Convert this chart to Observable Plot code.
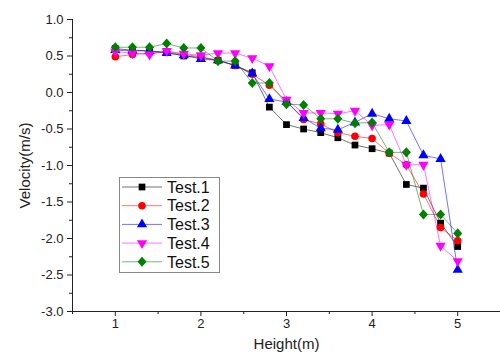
<!DOCTYPE html>
<html><head><meta charset="utf-8">
<script src="https://cdn.jsdelivr.net/npm/d3@7"></script>
<script src="https://cdn.jsdelivr.net/npm/@observablehq/plot@0.6"></script>
<style>
body{margin:0;background:#fff;font-family:"Liberation Sans",Arial,sans-serif}
#c{position:relative;width:500px;height:352px}
[aria-label="y-axis label"] text,[aria-label="x-axis label"] text{font-size:15px}
</style>
</head><body><div id="c"></div>
<script>
const heights = [1.0,1.2,1.4,1.6,1.8,2.0,2.2,2.4,2.6,2.8,3.0,3.2,3.4,3.6,3.8,4.0,4.2,4.4,4.6,4.8,5.0];
const test1 = [0.60,0.58,0.57,0.55,0.50,0.48,0.44,0.37,0.27,-0.20,-0.44,-0.50,-0.55,-0.62,-0.72,-0.77,-0.83,-1.26,-1.31,-1.79,-2.11];
const test2 = [0.49,0.52,0.54,0.56,0.52,0.49,0.44,0.37,0.25,0.10,-0.12,-0.37,-0.43,-0.55,-0.60,-0.63,-0.83,-0.99,-1.39,-1.85,-2.03];
const test3 = [0.58,0.57,0.57,0.54,0.51,0.46,0.44,0.37,0.26,-0.09,-0.13,-0.35,-0.49,-0.51,-0.41,-0.29,-0.36,-0.39,-0.86,-0.91,-2.43];
const test4 = [0.56,0.54,0.52,0.57,0.53,0.51,0.54,0.54,0.47,0.36,-0.10,-0.28,-0.28,-0.29,-0.25,-0.45,-0.44,-0.99,-0.99,-2.10,-2.31];
const test5 = [0.62,0.62,0.62,0.67,0.61,0.61,0.43,0.43,0.13,0.13,-0.16,-0.17,-0.36,-0.36,-0.42,-0.41,-0.82,-0.82,-1.67,-1.67,-1.93];
const seriesNames = ["Test.1","Test.2","Test.3","Test.4","Test.5"];
const seriesValues = [test1,test2,test3,test4,test5];
const seriesColors = ["#000000","#ff0000","#0000ff","#ff00ff","#008000"];
const yTicks = [-3.0,-2.5,-2.0,-1.5,-1.0,-0.5,0.0,0.5,1.0];
const yMinor = [-2.75,-2.25,-1.75,-1.25,-0.75,-0.25,0.25,0.75];
const xTicks = [1,2,3,4,5];
const xMinor = [0.5,1.5,2.5,3.5,4.5,5.5];

const triangleDown = {
  draw(context, size) {
    const s3 = Math.sqrt(3);
    const y = -Math.sqrt(size / (s3 * 3));
    context.moveTo(0, -y * 2);
    context.lineTo(-s3 * y, y);
    context.lineTo(s3 * y, y);
    context.closePath();
  }
};
const rhombus = {
  draw(context, size) {
    const h = Math.sqrt(size / 1.8);
    const w = h * 0.9;
    context.moveTo(0, -h);
    context.lineTo(w, 0);
    context.lineTo(0, h);
    context.lineTo(-w, 0);
    context.closePath();
  }
};
const symbols = ["square","circle","triangle",triangleDown,rhombus];

const rows = [];
seriesNames.forEach((name, i) => heights.forEach((h, j) => rows.push({series: name, h, v: seriesValues[i][j]})));

const marks = [
  Plot.ruleX([0.5], {stroke: "#222"}),
  Plot.ruleY([-3], {stroke: "#222"}),
  Plot.axisY({ticks: yTicks, tickSize: 5, tickPadding: 4, tickFormat: d => d.toFixed(1), fontSize: 13, label: "Velocity(m/s)", labelAnchor: "center", labelArrow: "none", labelOffset: 53, stroke: "#222", color: "#222"}),
  Plot.axisY({ticks: yMinor, tickSize: 3, tickFormat: () => "", label: null, stroke: "#222"}),
  Plot.axisX({ticks: xTicks, tickSize: 5, tickPadding: 2, tickFormat: d => String(d), fontSize: 13, label: "Height(m)", labelAnchor: "center", labelArrow: "none", labelOffset: 37, stroke: "#222", color: "#222"}),
  Plot.axisX({ticks: xMinor, tickSize: 3, tickFormat: () => "", label: null, stroke: "#222"})
];
seriesNames.forEach((name, i) => {
  const data = rows.filter(r => r.series === name);
  marks.push(Plot.line(data, {x: "h", y: "v", stroke: seriesColors[i], strokeWidth: 1, strokeOpacity: 0.55}));
});
seriesNames.forEach((name, i) => {
  const data = rows.filter(r => r.series === name);
  marks.push(Plot.dot(data, {x: "h", y: "v", fill: seriesColors[i], symbol: symbols[i], r: 3.8, stroke: "none"}));
});

const chart = Plot.plot({
  width: 500, height: 352,
  marginLeft: 72, marginTop: 19, marginBottom: 41, marginRight: 0,
  x: {domain: [0.5, 5.5]},
  y: {domain: [-3, 1]},
  style: {fontFamily: "'Liberation Sans', Arial, sans-serif", fontSize: "12px", background: "#fff", overflow: "visible"},
  marks
});
document.getElementById("c").appendChild(chart);

// legend
const svg = d3.select(chart);
const g = svg.append("g").attr("font-family", "'Liberation Sans', Arial, sans-serif").attr("text-anchor", "start");
g.append("rect").attr("x", 119.5).attr("y", 177.5).attr("width", 100).attr("height", 95)
  .attr("fill", "#fff").attr("stroke", "#888").attr("stroke-width", 1);
const d3syms = [d3.symbolSquare, d3.symbolCircle, d3.symbolTriangle, triangleDown, rhombus];
seriesNames.forEach((name, i) => {
  const y = 187 + i * 18.7;
  g.append("line").attr("x1", 122).attr("x2", 162).attr("y1", y).attr("y2", y)
    .attr("stroke", seriesColors[i]).attr("stroke-opacity", 0.55).attr("stroke-width", 1);
  g.append("path").attr("d", d3.symbol(d3syms[i], 45)()).attr("transform", `translate(142,${y})`).attr("fill", seriesColors[i]);
  g.append("text").attr("x", 167).attr("y", y).attr("dy", "0.36em").attr("font-size", 16).attr("fill", "#111").text(name);
});
</script>
</body></html>
